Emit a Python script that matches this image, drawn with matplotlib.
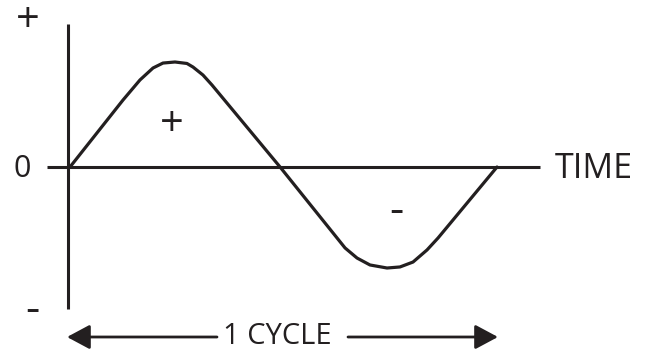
import matplotlib
matplotlib.use("Agg")
import matplotlib.pyplot as plt

# wave shape: phase in degrees, amplitude (peak = 1)
phase = [0, 44.7, 59.0, 70.0, 78.4, 88.5, 98.6, 103.7, 112.1, 119.7, 177.1,
         231.9, 242.0, 252.9, 267.3, 278.2, 289.2, 301.0, 310.3, 360]
amplitude = [0, 0.638, 0.829, 0.943, 0.990, 1.0, 0.986, 0.952, 0.876, 0.781, 0,
             -0.771, -0.867, -0.933, -0.962, -0.952, -0.905, -0.790, -0.676, 0]
cycle = [0, 360]

ink = '#231f20'
W, H = 645, 352

fig = plt.figure(figsize=(W / 100, H / 100), dpi=100)
fig.patch.set_facecolor('white')
ax = fig.add_axes([0, 0, 1, 1])
ax.set_axis_off()

# axes limits chosen so one cycle spans px 70..497 and the peak sits 105 px above zero
px_per_deg = 427 / 360
ax.set_xlim(-70 / px_per_deg, (W - 70) / px_per_deg)
ax.set_ylim(-(H - 167) / 105, 167 / 105)

# axes
ax.plot([-1.7, -1.7], [-1.352, 1.362], color=ink, lw=2.2, solid_capstyle='butt')
ax.plot([-19.4, 396.3], [0, 0], color=ink, lw=2.2, solid_capstyle='butt')

# the wave
ax.plot(phase, amplitude, color=ink, lw=2.3, solid_joinstyle='round', solid_capstyle='round')

# one cycle arrows
arrow_y = -(337 - 167) / 105
arrow_kw = dict(arrowstyle='-|>,head_length=1.4,head_width=0.75', mutation_scale=10,
                color=ink, lw=2.0, shrinkA=0, shrinkB=0)
ax.annotate('', xy=(cycle[0] - 2.5, arrow_y), xytext=((217 - 70) / px_per_deg, arrow_y),
            arrowprops=arrow_kw)
ax.annotate('', xy=(cycle[1] + 0.8, arrow_y), xytext=((348 - 70) / px_per_deg, arrow_y),
            arrowprops=arrow_kw)

font = 'Open Sans'

def fx(px):
    return px / W

def fy(py):
    return 1 - py / H

fig.text(fx(27.5), fy(21), '+', fontsize=30, family=font, color=ink, ha='center', va='center')
fig.text(fx(22.5), fy(177), '0', fontsize=22, family=font, color=ink, ha='center', va='baseline')
fig.text(fx(32), fy(310.5), '-', fontsize=32, family=font, color=ink, ha='center', va='center')
fig.text(fx(172), fy(124.5), '+', fontsize=30, family=font, color=ink, ha='center', va='center')
fig.text(fx(396.5), fy(212), '-', fontsize=32, family=font, color=ink, ha='center', va='center')
fig.text(fx(555), fy(178), 'TIME', fontsize=24.5, family=font, color=ink, ha='left', va='baseline')
fig.text(fx(277.5), fy(344.5), '1 CYCLE', fontsize=21, family=font, color=ink, ha='center', va='baseline')

fig.savefig('out.png', dpi=100, facecolor='white')
